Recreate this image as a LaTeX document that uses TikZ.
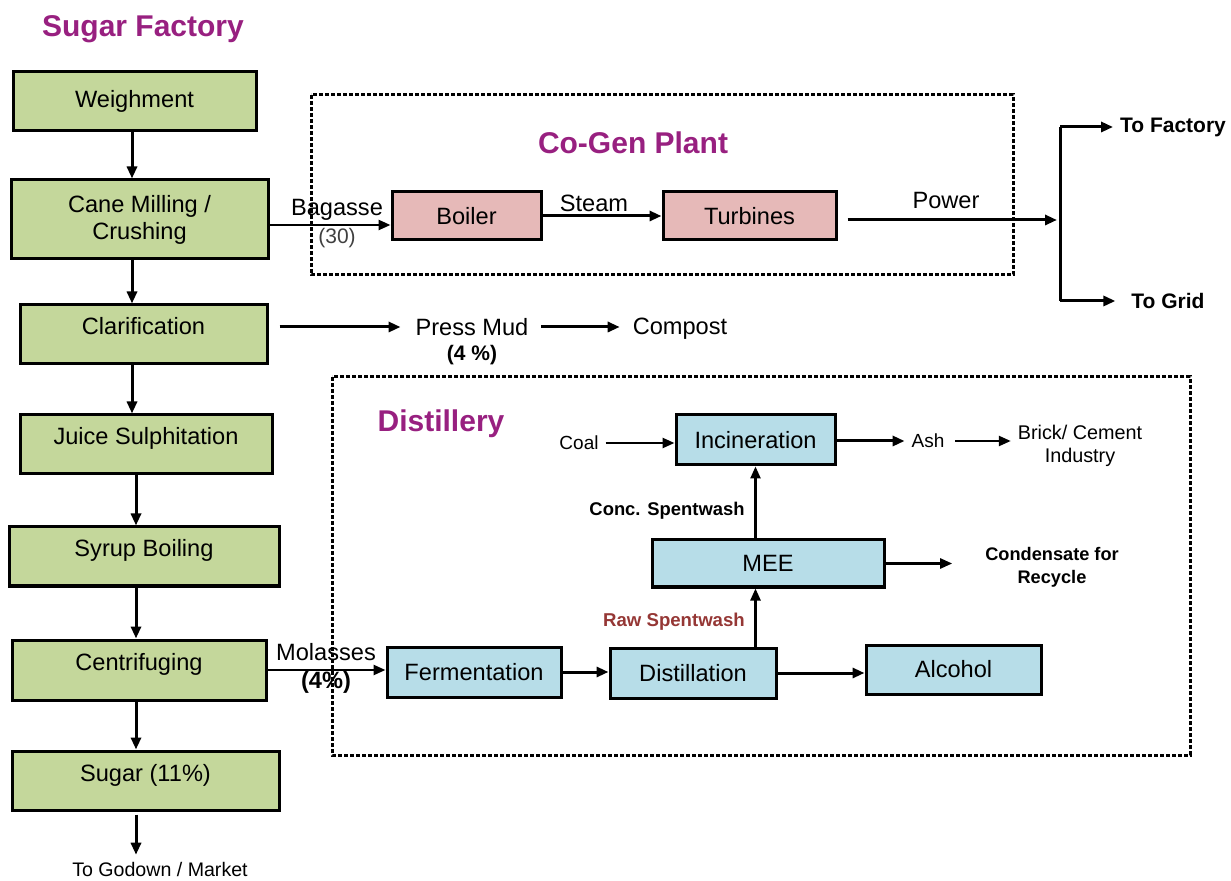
\documentclass[tikz,border=0pt]{standalone}
\usepackage{fontspec}
\setmainfont{Liberation Sans}
\usetikzlibrary{arrows.meta}

\definecolor{canegreen}{RGB}{196,215,155}
\definecolor{cogenpink}{RGB}{230,185,184}
\definecolor{distblue}{RGB}{183,221,232}
\definecolor{titlepurple}{RGB}{152,32,128}
\definecolor{washred}{RGB}{149,55,53}

\tikzset{
  sugarbox/.style={shape=rectangle,draw=black,fill=canegreen,line width=1.5pt,minimum height=29.5pt,align=center,font=\fontsize{11.8}{13.5}\selectfont},
  lifted/.style={text height=7.5pt,text depth=7pt},
  cogenbox/.style={shape=rectangle,draw=black,fill=cogenpink,line width=1.5pt,minimum height=24pt,font=\fontsize{11.8}{13}\selectfont},
  distbox/.style={shape=rectangle,draw=black,fill=distblue,line width=1.5pt,minimum height=25pt,font=\fontsize{11.8}{13}\selectfont},
  plantbox/.style={draw=black,line width=1.5pt,dash pattern=on 2pt off 1pt},
  heading/.style={text=titlepurple,font=\fontsize{15}{18}\selectfont\bfseries},
  flowtext/.style={align=center,font=\fontsize{11.8}{14}\selectfont},
  smalltext/.style={align=center,font=\fontsize{9.5}{11.5}\selectfont},
  flow/.style={line width=1.5pt,-{Triangle[length=6pt,width=5pt]}},
}

\begin{document}
\begin{tikzpicture}[x=0.5pt,y=-0.5pt]
\useasboundingbox (0,0) rectangle (1231,881);

\draw[plantbox] (311,95) rectangle (1013,275);
\draw[plantbox] (332,377) rectangle (1190,755);

\node[sugarbox,minimum width=121.5pt] (0) at (134.5,101.5) {Weighment};
\node[sugarbox,minimum width=128.5pt,minimum height=39.5pt] (1) at (139.5,219.5) {Cane Milling /\\Crushing};
\node[sugarbox,lifted,minimum width=123.5pt] (2) at (143.5,334.5) {Clarification};
\node[sugarbox,lifted,minimum width=126pt] (3) at (146,444.5) {Juice Sulphitation};
\node[sugarbox,lifted,minimum width=135pt] (4) at (144,556.5) {Syrup Boiling};
\node[sugarbox,lifted,minimum width=127pt,minimum height=30pt] (5) at (139,670) {Centrifuging};
\node[sugarbox,lifted,minimum width=133.5pt] (6) at (145.5,780.5) {Sugar (11\%)};
\node[cogenbox,minimum width=74.5pt] (7) at (466.5,216) {Boiler};
\node[cogenbox,minimum width=86.5pt] (8) at (749.5,216) {Turbines};
\node[distbox,minimum width=87pt] (9) at (474,672) {Fermentation};
\node[distbox,minimum width=83pt] (10) at (693,673) {Distillation};
\node[distbox,minimum width=87.5pt,minimum height=24.5pt] (11) at (953.5,669.5) {Alcohol};
\node[distbox,minimum width=116pt,minimum height=23.5pt] (12) at (768,563.5) {MEE};
\node[distbox,minimum width=79.5pt] (13) at (755.5,440) {Incineration};

\node[heading] (14) at (143,29) {Sugar Factory};
\node[heading] (15) at (633,143) {Co-Gen Plant};
\node[heading] (16) at (441,424) {Distillery};
\node[flowtext] (17) at (337,224) {Bagasse\\{\color{darkgray}\fontsize{10.5}{14}\selectfont(30)}};
\node[flowtext] (18) at (594,203) {Steam};
\node[flowtext] (19) at (946,201) {Power};
\node[flowtext,font=\fontsize{10.5}{14}\selectfont\bfseries] (20) at (1173,127) {To Factory};
\node[flowtext,font=\fontsize{10.5}{14}\selectfont\bfseries] (21) at (1168,301) {To Grid};
\node[flowtext] (22) at (472,327) {Press Mud};
\node[flowtext,font=\fontsize{10.5}{14}\selectfont\bfseries] (23) at (472,355) {(4 \%)};
\node[flowtext] (24) at (680,329) {Compost};
\node[smalltext] (25) at (579,443) {Coal};
\node[smalltext] (26) at (928,441) {Ash};
\node[smalltext,font=\fontsize{9.9}{11.5}\selectfont] (27) at (1080,446) {Brick/ Cement\\Industry};
\node[smalltext,font=\fontsize{9.2}{11.5}\selectfont\bfseries] (28) at (667,511) {Conc. Spentwash};
\node[smalltext,font=\fontsize{9.1}{11.5}\selectfont\bfseries] (29) at (1052,567) {Condensate for\\Recycle};
\node[smalltext,font=\fontsize{9.3}{11.5}\selectfont\bfseries,text=washred] (30) at (674,622) {Raw Spentwash};
\node[flowtext] (31) at (326,668) {Molasses\\\textbf{(4\%)}};
\node[smalltext,font=\fontsize{9.8}{11.5}\selectfont] (32) at (160,869) {To Godown / Market};

\coordinate (33) at (132,0);
\coordinate (34) at (136,0);
\coordinate (35) at ([yshift=-4.5pt]7.west);
\coordinate (36) at (1060,220);

\path [flow] (0.south -| 33) edge (1.north -| 33);
\path [flow] (1.south -| 33) edge (2.north -| 33);
\path [flow] (2.south -| 33) edge (3.north -| 33);
\path [flow] (3.south -| 34) edge (4.north -| 34);
\path [flow] (4.south -| 34) edge (5.north -| 34);
\path [flow] (5.south -| 34) edge (6.north -| 34);
\path [flow,shorten <=1.5pt] (6.south -| 34) edge (32.north -| 34);
\path [flow,line width=1.2pt] (35 -| 1.east) edge (35);
\path [flow] (7.east) edge (8.west);
\path [flow,shorten <=5pt,shorten >=1.5pt] (36 -| 8.east) edge (36);
\path [line width=1.5pt] (36 |- 20.west) edge (36 |- 21.west);
\path [flow] (36 |- 20.west) edge (20.west);
\path [flow,shorten >=4.5pt] (36 |- 21.west) edge (21.west);
\path [flow,shorten <=5.5pt,shorten >=4pt] (22.west -| 2.east) edge (22.west);
\path [flow,shorten <=3pt,shorten >=3pt] (22.east) edge (22.east -| 24.west);
\path [flow,line width=1.2pt] (25.east) edge (25.east -| 13.west);
\path [flow] (26.west -| 13.east) edge (26.west);
\path [flow,line width=1.2pt,shorten <=2pt] (26.east) edge (26.east -| 27.west);
\path [flow,line width=1.2pt] (13.south |- 12.north) edge (13.south);
\path [flow,line width=1.2pt] (13.south |- 10.north) edge (13.south |- 12.south);
\path [flow,line width=1.2pt,shorten >=13pt] (12.east) edge (12.east -| 29.west);
\path [flow,line width=1.2pt] (5.east) edge (5.east -| 9.west);
\path [flow] (9.east) edge (9.east -| 10.west);
\path [flow] (10.east) edge (10.east -| 11.west);
\end{tikzpicture}
\end{document}
